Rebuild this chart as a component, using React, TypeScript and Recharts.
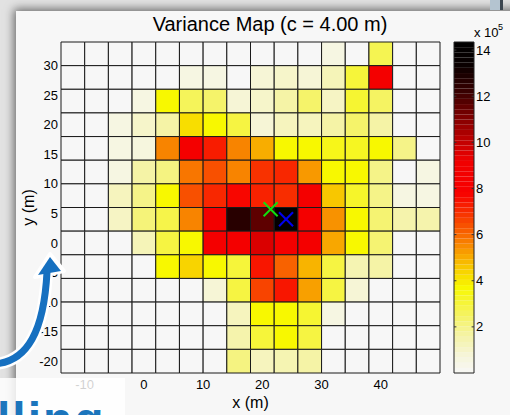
import React from 'react';
import {
  ScatterChart,
  ComposedChart,
  Scatter,
  XAxis,
  YAxis,
  ReferenceArea,
  ReferenceLine,
  Label,
} from 'recharts';

// 4 m grid cells, centre coordinates in metres
const X_CENTERS = [-12, -8, -4, 0, 4, 8, 12, 16, 20, 24, 28, 32, 36, 40, 44, 48];
const Y_CENTERS = [32, 28, 24, 20, 16, 12, 8, 4, 0, -4, -8, -12, -16, -20];
const CELL = 4;

// variance per cell (x 10^5), one row per Y_CENTERS entry, columns follow X_CENTERS
const VARIANCE = [
  [0, 0, 0, 0, 0, 0, 0, 0, 0, 0, 0, 0.5, 0, 2.7, 0, 0],
  [0, 0, 0, 0, 0, 0.5, 0.5, 0, 0.8, 1.0, 0.8, 1.3, 3.0, 8.5, 0, 0],
  [0, 0, 0, 0.5, 3.7, 2.6, 2.4, 0.8, 1.0, 1.6, 2.4, 1.1, 3.1, 2.5, 0, 0],
  [0, 0, 0.5, 1.0, 1.6, 4.2, 3.7, 2.9, 0.8, 1.2, 1.2, 1.6, 2.4, 1.6, 0, 0],
  [0, 0, 0.5, 0.6, 5.6, 8.5, 7.3, 5.6, 5.0, 3.7, 3.7, 3.4, 3.3, 3.7, 2.0, 0],
  [0, 0, 0.5, 1.6, 2.1, 5.8, 6.4, 5.6, 6.9, 7.1, 5.3, 3.7, 3.7, 2.0, 0, 0.5],
  [0, 0, 1.2, 2.0, 3.7, 6.4, 7.1, 7.7, 7.2, 7.0, 8.5, 4.6, 3.2, 2.0, 0.5, 0.5],
  [0, 0, 1.1, 2.2, 2.8, 5.6, 8.5, 12.6, 11.6, 14.0, 8.5, 5.4, 3.7, 2.3, 1.5, 1.5],
  [0, 0, 0, 1.3, 2.9, 3.7, 8.5, 8.5, 9.6, 8.5, 8.5, 5.1, 3.7, 2.3, 0, 0],
  [0, 0, 0, 0, 3.7, 4.4, 3.7, 3.0, 7.4, 6.1, 4.9, 2.9, 1.4, 1.6, 0, 0],
  [0, 0, 0, 0, 0, 0, 0.8, 2.9, 6.6, 7.4, 5.2, 2.9, 0.8, 0, 0, 0],
  [0, 0, 0, 0, 0, 0, 0, 1.2, 3.7, 3.7, 3.1, 0.5, 0, 0, 0, 0],
  [0, 0, 0, 0, 0, 0, 0, 1.5, 3.0, 3.7, 2.9, 0, 0, 0, 0, 0],
  [0, 0, 0, 0, 0, 0, 0, 2.1, 1.2, 1.4, 1.6, 0, 0, 0, 0, 0],
];

const MARK_GREEN = [{ x: 21.4, y: 5.7 }];
const MARK_BLUE = [{ x: 24, y: 4 }];

const X_TICKS = [-10, 0, 10, 20, 30, 40];
const Y_TICKS = [-20, -15, -10, -5, 0, 5, 10, 15, 20, 25, 30];
const CB_TICKS = [2, 4, 6, 8, 10, 12, 14];
const CB_MAX = 14.35;
const CB_LEVELS = 64;

// inverted "hot" colour map: white -> yellow -> red -> black
const CMAP_AT = [0, 0.8, 1.6, 2.4, 3.2, 3.7, 4.4, 5.2, 6.0, 6.8, 7.8, 9.2, 10.2, 11.2, 12.2, 13.4, 14.35];
const CMAP_RGB = [
  '#f7f7f7', '#f6f5d6', '#f5f3a6', '#f5f36a', '#f6f52a', '#f8f800', '#f8d400', '#f8a000',
  '#f86800', '#f83800', '#f80000', '#f00000', '#b80000', '#780000', '#380000', '#080000', '#000000',
];

const FONT = '"Liberation Sans", Arial, Helvetica, sans-serif';

function hexToRgb(h: string) {
  const n = parseInt(h.slice(1), 16);
  return [(n >> 16) & 255, (n >> 8) & 255, n & 255];
}

function hot(v: number): string {
  if (v <= CMAP_AT[0]) return CMAP_RGB[0];
  for (let i = 1; i < CMAP_AT.length; i++) {
    if (v <= CMAP_AT[i]) {
      const t = (v - CMAP_AT[i - 1]) / (CMAP_AT[i] - CMAP_AT[i - 1]);
      const a = hexToRgb(CMAP_RGB[i - 1]);
      const b = hexToRgb(CMAP_RGB[i]);
      const c = a.map((ch, k) => Math.round(ch + (b[k] - ch) * t));
      return `rgb(${c[0]},${c[1]},${c[2]})`;
    }
  }
  return CMAP_RGB[CMAP_RGB.length - 1];
}

const Cross = (props: any) => {
  const { cx, cy, fill } = props;
  const h = 7;
  return (
    <g stroke={fill} strokeWidth={2}>
      <line x1={cx - h} y1={cy - h} x2={cx + h} y2={cy + h} />
      <line x1={cx - h} y1={cy + h} x2={cx + h} y2={cy - h} />
    </g>
  );
};

const tickStyle = { fontSize: 13, fill: '#000', fontFamily: FONT };

export default function App() {
  const bandStep = CB_MAX / CB_LEVELS;
  const bands = Array.from({ length: CB_LEVELS }, (_, i) => i);

  return (
    <div style={{ position: 'relative', width: 510, height: 415, overflow: 'hidden', background: '#e2e2e2' }}>
      <style>{'body{margin:0}'}</style>
      {/* window panel with its drop shadow */}
      <div
        style={{
          position: 'absolute', left: 16, top: 11, width: 520, height: 420,
          background: '#f7f7f7', boxShadow: '0 0 9px 2px rgba(0,0,0,0.55)',
        }}
      />
      <div style={{ position: 'absolute', left: 490, top: 0, width: 10, height: 10, background: '#b4c4d0' }} />
      <div style={{ position: 'absolute', left: 500, top: 0, width: 3, height: 10, background: '#3c4650' }} />

      {/* variance grid */}
      <div style={{ position: 'absolute', left: 0, top: 0 }}>
        <ScatterChart width={510} height={415} margin={{ top: 42, right: 70, bottom: 20, left: 16 }}>
          <XAxis
            type="number"
            dataKey="x"
            domain={[-14, 50]}
            ticks={X_TICKS}
            allowDataOverflow
            height={22}
            axisLine={false}
            tickLine={false}
            tickSize={0}
            tickMargin={7}
            tick={tickStyle}
          >
            <Label value="x (m)" position="bottom" offset={2} style={{ fontSize: 16, fill: '#000', fontFamily: FONT }} />
          </XAxis>
          <YAxis
            type="number"
            dataKey="y"
            domain={[-22, 34]}
            ticks={Y_TICKS}
            allowDataOverflow
            width={45}
            axisLine={false}
            tickLine={false}
            tickSize={0}
            tickMargin={3}
            tick={tickStyle}
          >
            <Label
              value="y (m)"
              angle={-90}
              position="insideLeft"
              offset={12}
              style={{ fontSize: 16, fill: '#000', fontFamily: FONT, textAnchor: 'middle' }}
            />
          </YAxis>
          {VARIANCE.flatMap((row, r) =>
            row.map((v, c) => (
              <ReferenceArea
                key={`cell-${r}-${c}`}
                x1={X_CENTERS[c] - CELL / 2}
                x2={X_CENTERS[c] + CELL / 2}
                y1={Y_CENTERS[r] - CELL / 2}
                y2={Y_CENTERS[r] + CELL / 2}
                fill={hot(v)}
                fillOpacity={1}
                stroke="#1a1a1a"
                strokeWidth={1}
                ifOverflow="visible"
              />
            ))
          )}
          <Scatter data={MARK_GREEN} fill="#10e010" shape={<Cross />} isAnimationActive={false} />
          <Scatter data={MARK_BLUE} fill="#0000f0" shape={<Cross />} isAnimationActive={false} />
        </ScatterChart>
      </div>

      {/* colour bar */}
      <div style={{ position: 'absolute', left: 0, top: 0 }}>
        <ComposedChart
          width={510}
          height={415}
          data={CB_TICKS.map((t) => ({ x: 0.5, y: t }))}
          margin={{ top: 42, right: 0, bottom: 42, left: 454 }}
        >
          <XAxis type="number" dataKey="x" domain={[0, 1]} hide />
          <YAxis
            type="number"
            dataKey="y"
            orientation="right"
            domain={[0, CB_MAX]}
            ticks={CB_TICKS}
            allowDataOverflow
            width={36}
            axisLine={false}
            tickLine={false}
            tickSize={0}
            tickMargin={2}
            tick={tickStyle}
          />
          {bands.map((i) => (
            <ReferenceArea
              key={`band-${i}`}
              x1={0}
              x2={1}
              y1={i * bandStep}
              y2={(i + 1) * bandStep}
              fill={hot((i + 0.5) * bandStep)}
              fillOpacity={1}
              stroke="none"
              ifOverflow="visible"
            />
          ))}
          <ReferenceArea x1={0} x2={1} y1={0} y2={CB_MAX} fill="none" stroke="#222" strokeWidth={1} ifOverflow="visible" />
          {CB_TICKS.map((t) => (
            <ReferenceLine key={`tl-${t}`} segment={[{ x: 0, y: t }, { x: 0.12, y: t }]} stroke="#333" ifOverflow="visible" />
          ))}
          {CB_TICKS.map((t) => (
            <ReferenceLine key={`tr-${t}`} segment={[{ x: 0.88, y: t }, { x: 1, y: t }]} stroke="#333" ifOverflow="visible" />
          ))}
        </ComposedChart>
      </div>

      {/* titles and slide overlays */}
      <svg width={510} height={415} style={{ position: 'absolute', left: 0, top: 0, pointerEvents: 'none' }}>
        <text x={270} y={31} textAnchor="middle" fontSize={20} fontFamily={FONT} fill="#000">
          Variance Map (c = 4.00 m)
        </text>
        <text x={474} y={37} fontSize={13} fontFamily={FONT} fill="#000">x 10</text>
        <text x={498} y={30} fontSize={9} fontFamily={FONT} fill="#000">5</text>

        <path d="M -6 364 C 28 362, 44 330, 47 272" fill="none" stroke="#fff" strokeWidth={12} />
        <polygon points="50,254 35,277 64,271" fill="#fff" stroke="#fff" strokeWidth={4} strokeLinejoin="round" />
        <path d="M -6 364 C 28 362, 44 330, 47 272" fill="none" stroke="#1670c0" strokeWidth={7} />
        <polygon points="50,257 38,275 61,271" fill="#1670c0" />

        <rect x={0} y={378} width={125} height={37} fill="#fff" fillOpacity={0.82} />
        <text x={-3} y={436} fontSize={48} fontWeight="bold" fontFamily={FONT} fill="#1b75bc" letterSpacing={2}>
          lling
        </text>
      </svg>
    </div>
  );
}
